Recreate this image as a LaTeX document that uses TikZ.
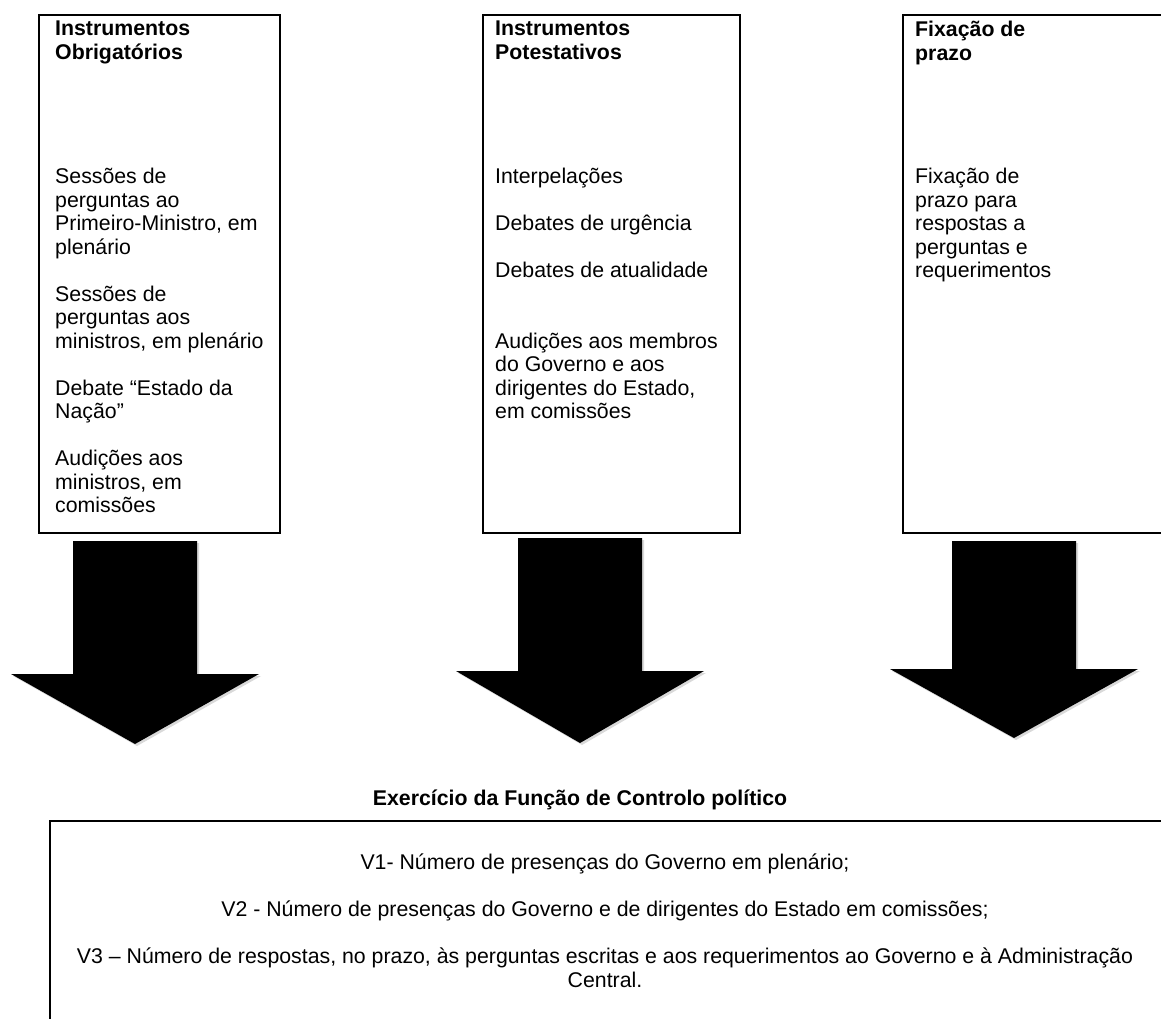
\documentclass[tikz,border=0pt]{standalone}
\usepackage{fontspec}
\setmainfont{Liberation Sans}
\usetikzlibrary{shadows}

\newcommand{\fonte}{\fontsize{21.3}{23.5}\selectfont}

\begin{document}
\begin{tikzpicture}[x=1pt, y=-1pt,
	caixa/.style={draw, line width=2pt, anchor=north west, inner sep=0pt},
	titulo/.style={anchor=north west, inner sep=0pt, align=left, font=\fonte\bfseries},
	texto/.style={anchor=north west, inner sep=0pt, align=left, font=\fonte},
	seta/.style={fill=black, drop shadow={shadow xshift=2pt, shadow yshift=-2pt, opacity=0.3}}]
	\useasboundingbox (0,0) rectangle (1161,1019);
	\clip (0,0) rectangle (1161,1019);
	\node[caixa, minimum width=241, minimum height=518] (obrig) at (38,14) {};
	\node[caixa, minimum width=257, minimum height=518] (potest) at (482,14) {};
	\node[caixa, minimum width=290, minimum height=518] (prazo) at (902,14) {};
	\node[titulo] (obrigtit) at (55,21) {Instrumentos\\Obrigatórios};
	\node[titulo] (potesttit) at (495,21) {Instrumentos\\Potestativos};
	\node[titulo] (prazotit) at (915,21) {Fixação de\\prazo};
	\node[texto] (obrigtxt) at (55,168) {Sessões de\\perguntas ao\\Primeiro-Ministro, em\\plenário\\[23.5pt]
		Sessões de\\perguntas aos\\ministros, em plenário\\[23.5pt]
		Debate “Estado da\\Nação”\\[23.5pt]
		Audições aos\\ministros, em\\comissões};
	\node[texto] (potesttxt) at (495,168) {Interpelações\\[23.5pt]
		Debates de urgência\\[23.5pt]
		Debates de atualidade\\[47pt]
		Audições aos membros\\do Governo e aos\\dirigentes do Estado,\\em comissões};
	\node[texto] (prazotxt) at (915,168) {Fixação de\\prazo para\\respostas a\\perguntas e\\requerimentos};
	\foreach \cx/\top/\base/\tip in {135/541/674/744, 580/538/671/743, 1014/541/669/738}
		\path[seta] (\cx-62,\top) -- (\cx+62,\top) -- (\cx+62,\base) -- (\cx+124,\base)
			-- (\cx,\tip) -- (\cx-124,\base) -- (\cx-62,\base) -- cycle;
	\node[font=\fonte\bfseries, inner sep=0pt] (exerc) at (580,800) {Exercício da Função de Controlo político};
	\node[caixa, minimum width=1150, minimum height=260] (variaveis) at (49,820) {};
	\node[font=\fonte, align=center, inner sep=0pt, anchor=north] (vartxt) at (605,854) {V1- Número de presenças do Governo em plenário;\\[23.5pt]
		V2 - Número de presenças do Governo e de dirigentes do Estado em comissões;\\[23.5pt]
		V3 – Número de respostas, no prazo, às perguntas escritas e aos requerimentos ao Governo e à Administração\\Central.};
\end{tikzpicture}
\end{document}
